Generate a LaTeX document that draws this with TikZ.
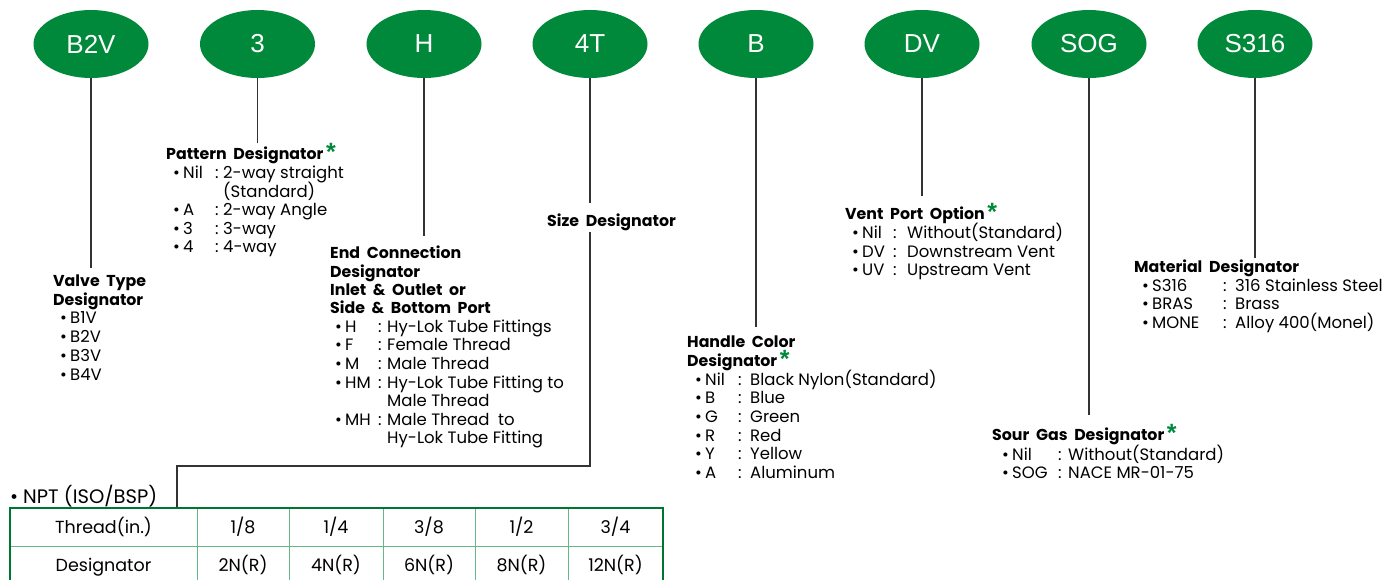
\documentclass[tikz,border=0pt]{standalone}
\usepackage{fontspec}
\setmainfont{Poppins}
\newfontfamily\ellfamily{Liberation Sans}
\usetikzlibrary{shapes.geometric}

\definecolor{hygreen}{RGB}{0,137,58}
\newcommand{\ellfont}{\ellfamily\fontsize{26}{26}\selectfont}
\newcommand{\headfont}{\bfseries\fontsize{15.8}{19}\selectfont\spaceskip 0.42em\relax}
\newcommand{\bul}{\makebox[10pt][l]{\textbullet}}
% bullet, key, colon, value
\newcommand{\entry}[4]{\bul\makebox[#1][l]{#2}\makebox[#3][l]{:}#4}
\newcommand{\req}{\,{\color{hygreen}\ellfamily\fontsize{25}{25}\selectfont\raisebox{-1.5pt}{*}}}

\begin{document}
\begin{tikzpicture}[x=1pt, y=-1pt,
  tag/.style={ellipse, fill=hygreen, minimum width=115pt, minimum height=68pt,
    inner sep=0pt, text=white, font=\ellfont},
  head/.style={anchor=base west, inner sep=0pt, font=\headfont},
  itm/.style={anchor=base west, inner sep=0pt, font=\fontsize{16.5}{19}\selectfont},
  cell/.style={anchor=base, inner sep=0pt, font=\fontsize{17.5}{19}\selectfont},
  lead/.style={line width=1.1pt, draw=black!80}
]
\useasboundingbox (0,0) rectangle (1400,579);

% code tags
\node[tag] (vt)  at (91,44)   {B2V};
\node[tag] (pat) at (257.5,44) {3};
\node[tag] (ec)  at (424,44)  {H};
\node[tag] (sz)  at (590,44)  {4T};
\node[tag] (hc)  at (756,44)  {B};
\node[tag] (vp)  at (922,44)  {DV};
\node[tag] (sg)  at (1089,44) {SOG};
\node[tag] (mat) at (1255,44) {S316};

% valve type
\node[head] (vthead) at (53,286) {Valve Type};
\node[head] (vthead2) at (53,305) {Designator};
\node[itm] (vt1) at (60,323) {\bul B1V};
\node[itm] (vt2) at (60,342) {\bul B2V};
\node[itm] (vt3) at (60,361) {\bul B3V};
\node[itm] (vt4) at (60,380) {\bul B4V};

% pattern
\node[head] (pathead) at (166,159) {Pattern Designator\req};
\node[itm] (pat1) at (173,178) {\entry{32pt}{Nil}{8pt}{2-way straight}};
\node[itm] (pat1b) at (223,197) {(Standard)};
\node[itm] (pat2) at (173,215) {\entry{32pt}{A}{8pt}{2-way Angle}};
\node[itm] (pat3) at (173,234) {\entry{32pt}{3}{8pt}{3-way}};
\node[itm] (pat4) at (173,252) {\entry{32pt}{4}{8pt}{4-way}};

% end connection
\node[head] (echead) at (330,258) {End Connection};
\node[head] (echead2) at (330,277) {Designator};
\node[head] (echead3) at (330,295) {Inlet \& Outlet or};
\node[head] (echead4) at (330,313) {Side \& Bottom Port};
\node[itm] (ec1) at (335,332) {\entry{33pt}{H}{9pt}{Hy-Lok Tube Fittings}};
\node[itm] (ec2) at (335,350) {\entry{33pt}{F}{9pt}{Female Thread}};
\node[itm] (ec3) at (335,369) {\entry{33pt}{M}{9pt}{Male Thread}};
\node[itm] (ec4) at (335,388) {\entry{33pt}{HM}{9pt}{Hy-Lok Tube Fitting to}};
\node[itm] (ec4b) at (387,406) {Male Thread};
\node[itm] (ec5) at (335,425) {\entry{33pt}{MH}{9pt}{Male Thread \ to}};
\node[itm] (ec5b) at (387,443) {Hy-Lok Tube Fitting};

% size
\node[head] (szhead) at (547,226) {Size Designator};

% handle color
\node[head] (hchead) at (687,347) {Handle Color};
\node[head] (hchead2) at (687,366) {Designator\req};
\node[itm] (hc1) at (695,385) {\entry{33pt}{Nil}{12pt}{Black Nylon(Standard)}};
\node[itm] (hc2) at (695,403) {\entry{33pt}{B}{12pt}{Blue}};
\node[itm] (hc3) at (695,422) {\entry{33pt}{G}{12pt}{Green}};
\node[itm] (hc4) at (695,441) {\entry{33pt}{R}{12pt}{Red}};
\node[itm] (hc5) at (695,459) {\entry{33pt}{Y}{12pt}{Yellow}};
\node[itm] (hc6) at (695,478) {\entry{33pt}{A}{12pt}{Aluminum}};

% vent port
\node[head] (vphead) at (845,219) {Vent Port Option\req};
\node[itm] (vp1) at (852,238) {\entry{31pt}{Nil}{14pt}{Without(Standard)}};
\node[itm] (vp2) at (852,257) {\entry{31pt}{DV}{14pt}{Downstream Vent}};
\node[itm] (vp3) at (852,275) {\entry{31pt}{UV}{14pt}{Upstream Vent}};

% sour gas
\node[head] (sghead) at (992,440) {Sour Gas Designator\req};
\node[itm] (sg1) at (1002,460) {\entry{46pt}{Nil}{10pt}{Without(Standard)}};
\node[itm] (sg2) at (1002,478) {\entry{46pt}{SOG}{10pt}{NACE MR-01-75}};

% material
\node[head] (mathead) at (1134,272) {Material Designator};
\node[itm] (mat1) at (1142,291) {\entry{71pt}{S316}{12pt}{316 Stainless Steel}};
\node[itm] (mat2) at (1142,309) {\entry{71pt}{BRAS}{12pt}{Brass}};
\node[itm] (mat3) at (1142,328) {\entry{71pt}{MONE}{12pt}{Alloy 400(Monel)}};

% thread table
\node[itm, font=\fontsize{19.5}{20}\selectfont] (npt) at (10,503) {\makebox[13pt][l]{\textbullet}NPT (ISO/BSP)};
\coordinate (tabnw) at (10,508);
\coordinate (tabse) at (663,583);
\foreach \xa in {197,289,383,475,568}
  \draw[hygreen!60, line width=1pt] (\xa,508) -- (\xa,583);
\draw[hygreen!60, line width=1pt] (10,546) -- (663,546);
\draw[hygreen!85!black, line width=2.4pt] (tabnw) rectangle (tabse);
\node[cell] (th0) at (103.5,533) {Thread(in.)};
\node[cell] (ds0) at (103.5,571) {Designator};
\node[cell] (th1) at (243,533) {1/8};
\node[cell] (th2) at (336,533) {1/4};
\node[cell] (th3) at (429,533) {3/8};
\node[cell] (th4) at (521.5,533) {1/2};
\node[cell] (th5) at (615.5,533) {3/4};
\node[cell] (ds1) at (243,571) {2N(R)};
\node[cell] (ds2) at (336,571) {4N(R)};
\node[cell] (ds3) at (429,571) {6N(R)};
\node[cell] (ds4) at (521.5,571) {8N(R)};
\node[cell] (ds5) at (615.5,571) {12N(R)};

% leaders
\draw[lead] (vt.south) -- (vt.south |- 0,268);
\draw[lead] (pat.south) -- (pat.south |- 0,143);
\draw[lead] (ec.south) -- (ec.south |- 0,236);
\draw[lead] (sz.south) -- (sz.south |- 0,203);
\draw[lead] (hc.south) -- (hc.south |- 0,327);
\draw[lead] (vp.south) -- (vp.south |- 0,196);
\draw[lead] (sg.south) -- (sg.south |- 0,415);
\draw[lead] (mat.south) -- (mat.south |- 0,258);
\coordinate (szbend) at (590,466);
\coordinate (tabbend) at (177,466);
\draw[lead] (590,232) -- (szbend) -- (tabbend) -- (177,507);
\end{tikzpicture}
\end{document}
